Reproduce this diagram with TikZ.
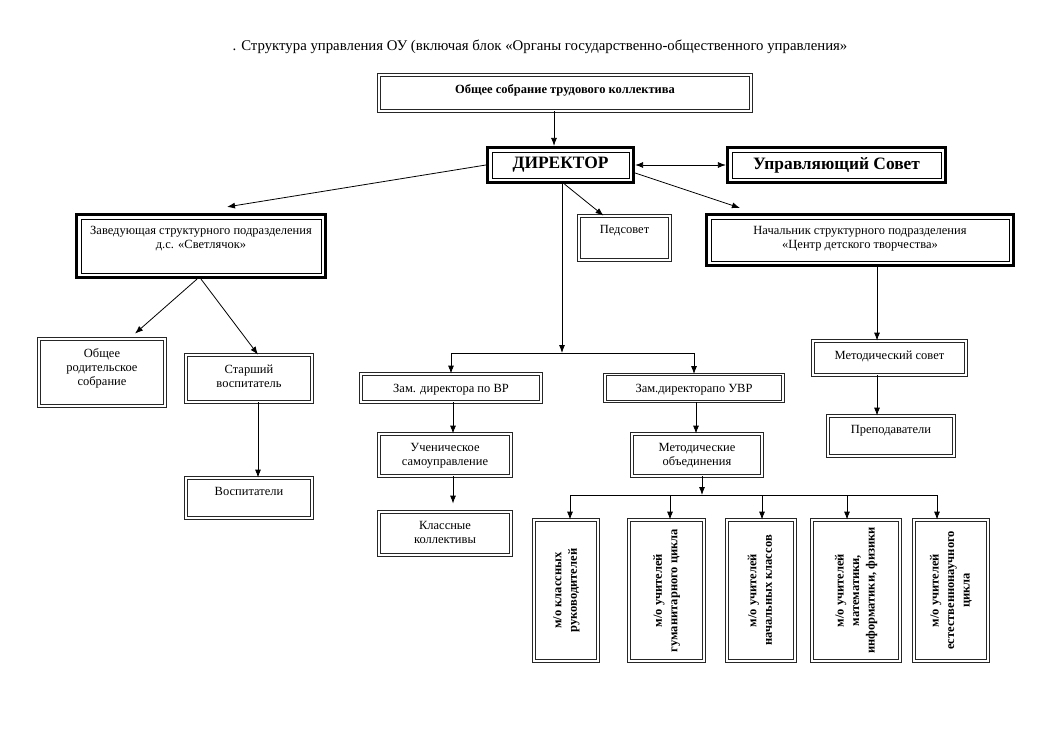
\documentclass[tikz,border=0pt]{standalone}
\usepackage{fontspec}
\setmainfont{Liberation Serif}
\usepackage{graphicx}
\usetikzlibrary{positioning, arrows.meta, calc}

\newcommand{\motext}[1]{\rotatebox{90}{\begin{tabular}{@{}c@{}}#1\end{tabular}}}

\begin{document}
\begin{tikzpicture}[x=1pt, y=-1pt,
    dbox/.style={rectangle, draw=black!85, line width=0.8pt, double, double distance=1.6pt,
                 inner sep=2pt, align=center, font=\fontsize{12.5}{14}\selectfont},
    tbox/.style={rectangle, draw=black, line width=3.2pt, inner sep=2pt, align=center,
                 font=\fontsize{12.5}{14}\selectfont,
                 path picture={\draw[line width=0.8pt]
                   ([shift={(4.4pt,4.4pt)}]path picture bounding box.south west) rectangle
                   ([shift={(-4.4pt,-4.4pt)}]path picture bounding box.north east);}},
    mobox/.style={dbox, minimum height=141pt, font=\bfseries\fontsize{12.5}{15.5}\selectfont},
    txt/.style={inner sep=0pt, align=center, font=\fontsize{12.5}{14}\selectfont},
    big/.style={font=\bfseries\fontsize{17.4}{20}\selectfont},
    arrow/.style={-{Latex[length=8pt, width=6pt]}, line width=0.8pt},
    dblarrow/.style={{Latex[length=8pt, width=6pt]}-{Latex[length=8pt, width=6pt]}, line width=0.8pt}
]

    \useasboundingbox (0,0) rectangle (1040,752);

    % Title
    \node[font=\fontsize{14.8}{17}\selectfont] (title) at (540,47)
        {. Структура управления ОУ (включая блок «Органы государственно-общественного управления»};

    % General meeting
    \node[dbox, minimum width=372pt, minimum height=36pt] (meet) at (565,93) {};
    \node[txt, font=\bfseries\fontsize{12.5}{14}\selectfont, below=10pt of meet.north] (meet-t)
        {Общее собрание трудового коллектива};

    % Director and council
    \node[tbox, big, minimum width=146pt, minimum height=35pt] (dir) at (560.5,165) {ДИРЕКТОР};
    \node[tbox, big, minimum width=218pt, minimum height=35pt] (council) at (836.5,165) {Управляющий Совет};

    % Second row
    \node[tbox, minimum width=249pt, minimum height=63pt] (kinder) at (201,246) {};
    \node[txt, below=13.5pt of kinder.north] (kinder-t)
        {Заведующая структурного подразделения\\д.с. «Светлячок»};
    \node[dbox, minimum width=91pt, minimum height=44pt] (pedsov) at (624.5,238) {};
    \node[txt, below=10pt of pedsov.north] (pedsov-t) {Педсовет};
    \node[tbox, minimum width=307pt, minimum height=51pt] (centre) at (860,240) {};
    \node[txt, below=13.5pt of centre.north] (centre-t)
        {Начальник структурного подразделения\\«Центр детского творчества»};

    % Kindergarten branch
    \node[dbox, minimum width=126pt, minimum height=67pt] (parents) at (102,372.5) {};
    \node[txt, below=10pt of parents.north] (parents-t) {Общее\\родительское\\собрание};
    \node[dbox, minimum width=126pt, minimum height=47pt] (senior) at (249,378.5) {};
    \node[txt, below=10pt of senior.north] (senior-t) {Старший\\воспитатель};
    \node[dbox, minimum width=126pt, minimum height=40pt] (educ) at (249,498) {};
    \node[txt, below=10pt of educ.north] (educ-t) {Воспитатели};

    % Deputies
    \node[dbox, minimum width=180pt, minimum height=28pt] (depVR) at (451,388) {};
    \node[txt, below=10pt of depVR.north] (depVR-t) {Зам. директора по ВР};
    \node[dbox, minimum width=178pt, minimum height=27pt] (depUVR) at (694,388) {};
    \node[txt, below=10pt of depUVR.north] (depUVR-t) {Зам.директорапо УВР};
    \node[dbox, minimum width=132pt, minimum height=42pt] (selfgov) at (445,455) {};
    \node[txt, below=10pt of selfgov.north] (selfgov-t) {Ученическое\\самоуправление};
    \node[dbox, minimum width=132pt, minimum height=43pt] (classes) at (445,533.5) {};
    \node[txt, below=10pt of classes.north] (classes-t) {Классные\\коллективы};
    \node[dbox, minimum width=130pt, minimum height=42pt] (unions) at (697,455) {};
    \node[txt, below=10pt of unions.north] (unions-t) {Методические\\объединения};

    % Centre branch
    \node[dbox, minimum width=153pt, minimum height=34pt] (mcouncil) at (889.5,358) {};
    \node[txt, below=10pt of mcouncil.north] (mcouncil-t) {Методический совет};
    \node[dbox, minimum width=126pt, minimum height=40pt] (teachers) at (891,436) {};
    \node[txt, below=10pt of teachers.north] (teachers-t) {Преподаватели};

    % Method unions
    \node[mobox, minimum width=64pt] (mo1) at (566,590.5) {\motext{м/о классных\\руководителей}};
    \node[mobox, minimum width=75pt] (mo2) at (666.5,590.5) {\motext{м/о учителей\\гуманитарного цикла}};
    \node[mobox, minimum width=68pt] (mo3) at (761,590.5) {\motext{м/о учителей\\начальных классов}};
    \node[mobox, minimum width=88pt] (mo4) at (856,590.5) {\motext{м/о учителей\\математики,\\информатики, физики}};
    \node[mobox, minimum width=74pt] (mo5) at (951,590.5) {\motext{м/о учителей\\естественнонаучного\\цикла}};

    \coordinate (vbus) at (562,353);
    \coordinate (mbus) at (702,495);

    % Connectors from the top
    \draw[arrow] ([xshift=-11pt]meet.south) -- ([xshift=-11pt]meet.south |- dir.north);
    \draw[dblarrow] (dir.east) -- (council.west);
    \draw[arrow] (dir.west) -- ($(kinder.north)+(26,-6)$);
    \draw[arrow] ([xshift=4pt]dir.south) -- ([xshift=-21pt]pedsov.north);
    \draw[arrow] ([yshift=-8pt]dir.east) -- ([xshift=35pt,yshift=5pt]centre.north west);
    \draw[arrow] (dir.south -| vbus) -- (vbus);
    \draw[arrow] (vbus) -| (depVR.north);
    \draw[arrow] (vbus) -| (depUVR.north);

    % Kindergarten
    \draw[arrow] ([xshift=-4pt]kinder.south) -- ($(parents.north)+(33,-5)$);
    \draw[arrow] (kinder.south) -- ([xshift=9pt]senior.north);
    \draw[arrow] ([xshift=9pt]senior.south) -- ([xshift=9pt]educ.north);

    % Deputies
    \draw[arrow] ([xshift=2pt]depVR.south) -- ([xshift=2pt]depVR.south |- selfgov.north);
    \draw[arrow, shorten >=8pt] ([xshift=8pt]selfgov.south) -- ([xshift=8pt]classes.north);
    \draw[arrow] ([xshift=2pt]depUVR.south) -- ([xshift=2pt]depUVR.south |- unions.north);
    \draw[arrow] (unions.south -| mbus) -- (mbus);
    \foreach \n/\dx in {1/4, 2/3.5, 3/1, 4/-9, 5/-14}
        \draw[arrow] (mbus) -| ([xshift=\dx pt]mo\n.north);

    % Centre
    \draw[arrow] ([xshift=17pt]centre.south) -- ([xshift=17pt]centre.south |- mcouncil.north);
    \draw[arrow] ([xshift=-12.5pt]mcouncil.south) -- ([xshift=-14pt]teachers.north);

\end{tikzpicture}
\end{document}
